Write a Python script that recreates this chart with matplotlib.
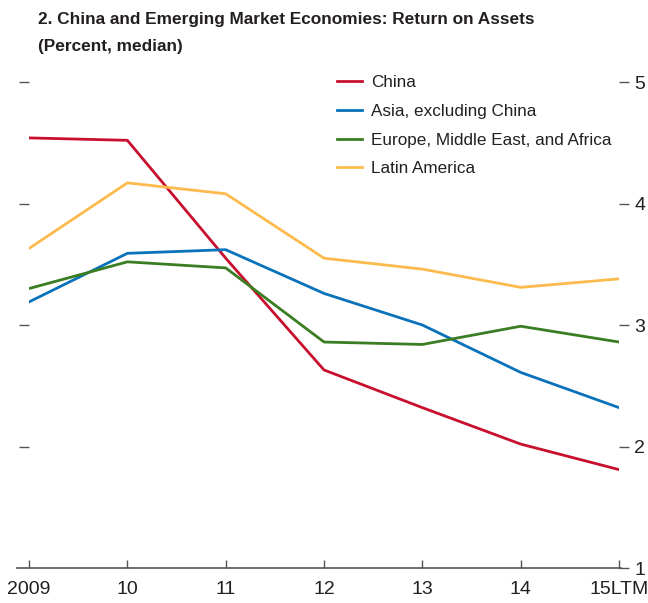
import matplotlib.pyplot as plt
from matplotlib import font_manager

# Datos (percent, median)
years = ['2009', '10', '11', '12', '13', '14', '15LTM']
china = [4.54, 4.52, 3.55, 2.63, 2.32, 2.02, 1.81]
asia_ex_china = [3.19, 3.59, 3.62, 3.26, 3.00, 2.61, 2.32]
emea = [3.30, 3.52, 3.47, 2.86, 2.84, 2.99, 2.86]
latam = [3.63, 4.17, 4.08, 3.55, 3.46, 3.31, 3.38]

series_names = ['China', 'Asia, excluding China',
                'Europe, Middle East, and Africa', 'Latin America']
colors = ['#C8102E', '#0A72BA', '#3A7D22', '#FDBB4E']

names = {f.name for f in font_manager.fontManager.ttflist}
fam = 'Liberation Sans Narrow' if 'Liberation Sans Narrow' in names else 'Liberation Sans'
plt.rcParams['font.family'] = [fam, 'DejaVu Sans']

fig = plt.figure(figsize=(6.48, 6.03), dpi=100)
ax = fig.add_axes([0.0448, 0.058, 0.9105, 0.806])

x = list(range(len(years)))
for vals, name, c in zip([china, asia_ex_china, emea, latam], series_names, colors):
    ax.plot(x, vals, color=c, lw=2, label=name)

ax.set_xlim(0, len(years) - 1)
ax.set_ylim(1, 5)
ax.set_xticks(x)
ax.set_xticklabels(years, fontsize=14, color='#231F20')
ax.set_yticks([1, 2, 3, 4, 5])

for s in ['top', 'left', 'right']:
    ax.spines[s].set_visible(False)
ax.spines['bottom'].set_color('#555555')
ax.spines['bottom'].set_linewidth(1.2)
ax.spines['bottom'].set_bounds(-0.12, 6.02)

ax.tick_params(axis='x', direction='in', length=6, width=1, color='#555555', pad=9)
ax.tick_params(axis='y', which='both', left=True, right=True, labelleft=False,
               labelright=True, direction='out', length=7, width=1,
               color='#555555', labelsize=14, labelcolor='#231F20', pad=4)
# hide the tick mark at 1 on the left (axis line there)
ax.yaxis.get_major_ticks()[0].tick1line.set_visible(False)

leg = ax.legend(loc='upper left', bbox_to_anchor=(0.51, 1.028), frameon=False,
                fontsize=12.3, handlelength=1.5, handletextpad=0.5,
                labelspacing=0.8, borderaxespad=0)
for t in leg.get_texts():
    t.set_color('#231F20')

fig.text(0.058, 0.980, '2. China and Emerging Market Economies: Return on Assets',
         fontsize=12.4, fontweight='bold', color='#231F20', va='top')
fig.text(0.058, 0.935, '(Percent, median)',
         fontsize=12.4, fontweight='bold', color='#231F20', va='top')

fig.savefig('out.png', dpi=100)
